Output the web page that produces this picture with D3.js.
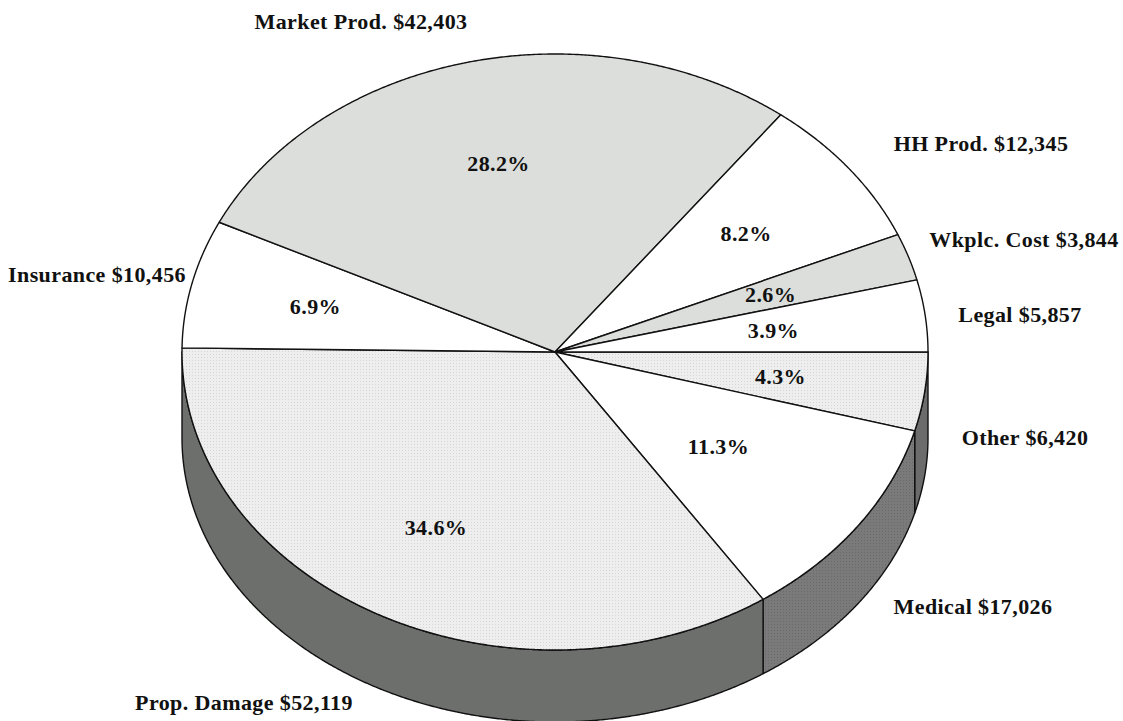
<!DOCTYPE html>
<html>
<head>
<meta charset="utf-8">
<script src="https://cdn.jsdelivr.net/npm/d3@7/dist/d3.min.js"></script>
<style>
  body { margin: 0; background: #fff; }
  text { font-family: "Liberation Serif", "Times New Roman", serif; font-weight: bold; font-size: 22px; letter-spacing: 0.4px; fill: #111; }
</style>
</head>
<body>
<div id="chart"></div>
<script>
// slices, clockwise from 3 o'clock
var names = ["Other", "Medical", "Prop. Damage", "Insurance", "Market Prod.", "HH Prod.", "Wkplc. Cost", "Legal"];
var costs = [6420, 17026, 52119, 10456, 42403, 12345, 3844, 5857];

// looks
var topFill = ["url(#dots)", "#fff", "url(#dots)", "#fff", "#dcdedb", "#fff", "#dcdedb", "#fff"];
var sideFill = ["#6c6c6c", "url(#darkdots)", "#6d6f6d", "#6d6f6d", "#6d6f6d", "#6d6f6d", "#6d6f6d", "#6d6f6d"];
var pctK = [0.61, 0.54, 0.67, 0.66, 0.65, 0.65, 0.61, 0.59];
// name label centres
var namePos = [[1025, 437], [973, 606], [244, 702], [97, 274], [361, 21], [981, 143], [1024, 239], [1020, 314]];

var W = 1123, H = 721;
var cx = 555, cy = 352, rx = 373, ry = 298, depth = 86, ryB = 284;

var svg = d3.select('#chart').append('svg')
  .attr('width', W).attr('height', H);

var defs = svg.append('defs');
var p1 = defs.append('pattern').attr('id', 'dots').attr('width', 3).attr('height', 3)
  .attr('patternUnits', 'userSpaceOnUse');
p1.append('rect').attr('width', 3).attr('height', 3).attr('fill', '#eeeeee');
p1.append('rect').attr('width', 1).attr('height', 1).attr('fill', '#d6d6d6');
var p2 = defs.append('pattern').attr('id', 'darkdots').attr('width', 3).attr('height', 3)
  .attr('patternUnits', 'userSpaceOnUse');
p2.append('rect').attr('width', 3).attr('height', 3).attr('fill', '#7a7a7a');
p2.append('rect').attr('width', 1).attr('height', 1).attr('fill', '#6a6a6a');

var total = d3.sum(costs);
var pie = d3.pie().sort(null).startAngle(Math.PI / 2).endAngle(Math.PI / 2 + 2 * Math.PI);
var arcs = pie(costs);

// d3 angle -> screen angle (0 = 3 o'clock, clockwise)
function ang(a) { return a - Math.PI / 2; }
function topPt(t, k) { k = k || 1; return [cx + rx * k * Math.cos(t), cy + ry * k * Math.sin(t)]; }
function botPt(t) { return [cx + rx * Math.cos(t), cy + depth + ryB * Math.sin(t)]; }
function steps(t0, t1) {
  var n = Math.max(2, Math.ceil(Math.abs(t1 - t0) / 0.005));
  return d3.range(n + 1).map(function (i) { return t0 + (t1 - t0) * i / n; });
}
var line = d3.line();

// side walls (front half only)
svg.append('g').selectAll('path')
  .data(arcs.filter(function (d) { return ang(d.startAngle) < Math.PI; }))
  .enter().append('path')
  .attr('d', function (d) {
    var s0 = Math.max(0, ang(d.startAngle)), s1 = Math.min(Math.PI, ang(d.endAngle));
    var pts = steps(s0, s1).map(function (t) { return topPt(t); })
      .concat(steps(s1, s0).map(botPt));
    return line(pts) + 'Z';
  })
  .attr('fill', function (d) { return sideFill[d.index]; })
  .attr('stroke', '#111').attr('stroke-width', 1.4).attr('stroke-linejoin', 'round');

// top slices
svg.append('g').selectAll('path')
  .data(arcs)
  .enter().append('path')
  .attr('d', function (d) {
    var pts = [[cx, cy]].concat(steps(ang(d.startAngle), ang(d.endAngle)).map(function (t) { return topPt(t); }));
    return line(pts) + 'Z';
  })
  .attr('fill', function (d) { return topFill[d.index]; })
  .attr('stroke', '#111').attr('stroke-width', 1.4).attr('stroke-linejoin', 'round');

// percentages
var pct = d3.format('.1%');
svg.append('g').selectAll('text')
  .data(arcs)
  .enter().append('text')
  .attr('text-anchor', 'middle').attr('dy', '0.35em')
  .attr('x', function (d) { return topPt(ang((d.startAngle + d.endAngle) / 2), pctK[d.index])[0]; })
  .attr('y', function (d) { return topPt(ang((d.startAngle + d.endAngle) / 2), pctK[d.index])[1]; })
  .text(function (d) { return pct(d.value / total); });

// names and amounts
var money = d3.format(',');
svg.append('g').selectAll('text')
  .data(arcs)
  .enter().append('text')
  .attr('text-anchor', 'middle').attr('dy', '0.35em')
  .attr('x', function (d) { return namePos[d.index][0]; })
  .attr('y', function (d) { return namePos[d.index][1]; })
  .text(function (d) { return names[d.index] + ' $' + money(d.value); });
</script>
</body>
</html>
